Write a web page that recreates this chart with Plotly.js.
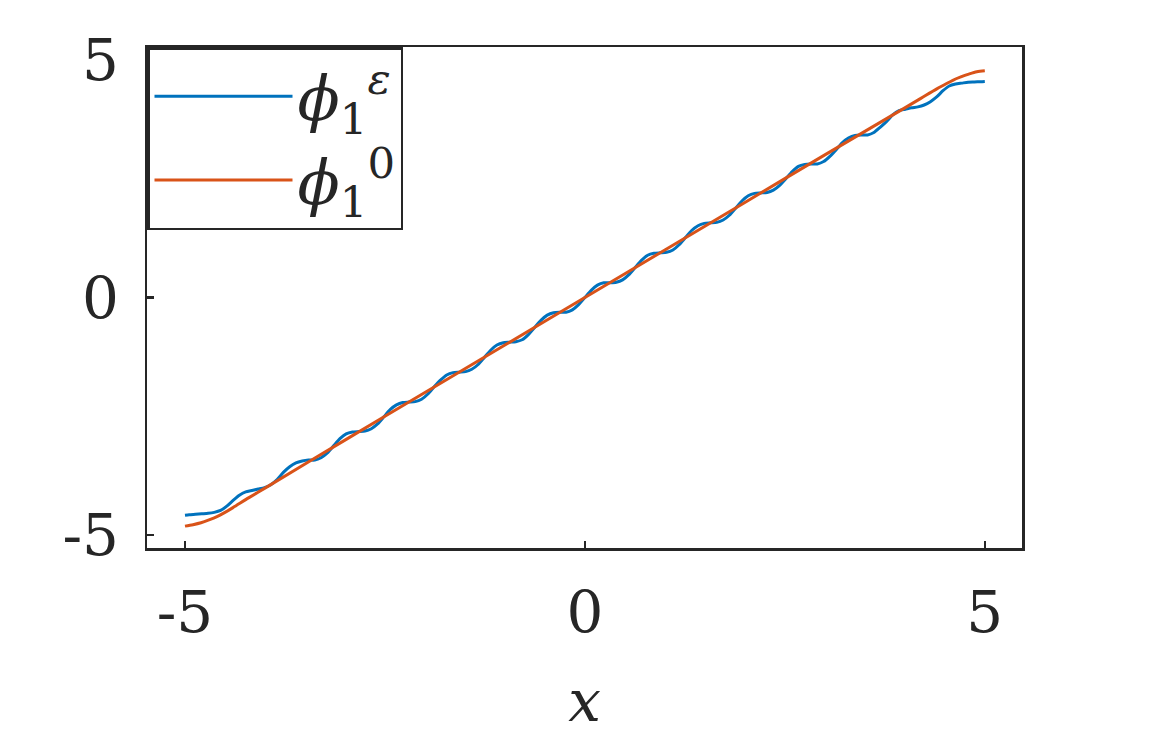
<!DOCTYPE html>
<html>
<head>
<meta charset="utf-8">
<script src="https://cdn.plot.ly/plotly-3.0.1.min.js"></script>
<style>html,body{margin:0;padding:0;background:#fff;}#chart{width:1150px;height:750px;}</style>
</head>
<body>
<div id="chart"></div>
<script>
// x samples shared by phi_1^eps
const xEps = [-5, -4.948, -4.869, -4.791, -4.712, -4.634, -4.555, -4.477, -4.398, -4.320, -4.241, -4.163, -4.084, -4.006, -3.927, -3.848, -3.770, -3.691, -3.613, -3.534, -3.456,
  -3.377, -3.299, -3.220, -3.142, -3.063, -2.985, -2.906, -2.827, -2.749, -2.670, -2.592, -2.513, -2.435, -2.356, -2.278, -2.199, -2.121, -2.042, -1.963, -1.885,
  -1.806, -1.728, -1.649, -1.571, -1.492, -1.414, -1.335, -1.257, -1.178, -1.100, -1.021, -0.942, -0.864, -0.785, -0.707, -0.628, -0.550, -0.471, -0.393, -0.314,
  -0.236, -0.157, -0.079, 0, 0.079, 0.157, 0.236, 0.314, 0.393, 0.471, 0.550, 0.628, 0.707, 0.785, 0.864, 0.942, 1.021, 1.100, 1.178, 1.257, 1.335, 1.414, 1.492,
  1.571, 1.649, 1.728, 1.806, 1.885, 1.963, 2.042, 2.121, 2.199, 2.278, 2.356, 2.435, 2.513, 2.592, 2.670, 2.749, 2.827, 2.906, 2.985, 3.063, 3.142, 3.220, 3.299,
  3.377, 3.456, 3.534, 3.613, 3.691, 3.770, 3.848, 3.927, 4.006, 4.084, 4.163, 4.241, 4.320, 4.398, 4.477, 4.555, 4.634, 4.712, 4.791, 4.869, 4.948, 5];
const phiEps = [-4.58, -4.57, -4.56, -4.55, -4.54, -4.52, -4.48, -4.39, -4.27, -4.16, -4.09, -4.06, -4.03, -4.00, -3.94, -3.83, -3.68, -3.56, -3.48, -3.44, -3.42,
  -3.42, -3.37, -3.27, -3.12, -2.97, -2.87, -2.83, -2.82, -2.81, -2.76, -2.66, -2.51, -2.36, -2.26, -2.21, -2.20, -2.19, -2.14, -2.03, -1.88,
  -1.74, -1.63, -1.58, -1.57, -1.56, -1.51, -1.41, -1.26, -1.11, -1.00, -0.95, -0.94, -0.93, -0.89, -0.78, -0.63, -0.48, -0.37, -0.32, -0.31,
  -0.31, -0.26, -0.15, 0, 0.15, 0.26, 0.31, 0.31, 0.32, 0.37, 0.48, 0.63, 0.78, 0.89, 0.93, 0.94, 0.95, 1.00, 1.11, 1.26, 1.41, 1.51, 1.56,
  1.57, 1.58, 1.63, 1.73, 1.88, 2.03, 2.14, 2.19, 2.20, 2.21, 2.26, 2.36, 2.50, 2.65, 2.76, 2.80, 2.81, 2.81, 2.86, 2.97, 3.11, 3.26, 3.36,
  3.41, 3.42, 3.42, 3.47, 3.58, 3.70, 3.84, 3.93, 3.96, 3.99, 4.01, 4.05, 4.12, 4.22, 4.35, 4.45, 4.49, 4.51, 4.53, 4.535, 4.54, 4.545];
// phi_1^0 (homogenized)
const xZero = [-5, -4.9, -4.8, -4.7, -4.6, -4.5, -4.4, -4.2, -4, -3, -2, -1, 0, 1, 2, 3, 4, 4.2, 4.4, 4.5, 4.6, 4.7, 4.8, 4.9, 5];
const phiZero = [-4.81, -4.78, -4.74, -4.68, -4.61, -4.52, -4.42, -4.21, -4.01, -3.0, -2.0, -1.0, 0, 1.0, 2.0, 3.0, 3.99, 4.19, 4.39, 4.48, 4.57, 4.64, 4.70, 4.75, 4.77];
const tickVals = [-5, 0, 5];
const tickText = ['-5', '0', '5'];
const seriesNames = ['<i>ϕ</i><sub>1</sub><sup><i>ε</i></sup>', '<i>ϕ</i><sub>1</sub><sup>0</sup>'];

const axisColor = '#262626';
const serif = 'DejaVu Serif';

const traces = [
  {x: xEps, y: phiEps, type: 'scatter', mode: 'lines', name: seriesNames[0],
   line: {color: '#0072BD', width: 3, shape: 'spline', smoothing: 0.6}},
  {x: xZero, y: phiZero, type: 'scatter', mode: 'lines', name: seriesNames[1],
   line: {color: '#D95319', width: 3, shape: 'spline', smoothing: 0.8}}
];

const layout = {
  width: 1150, height: 750,
  margin: {l: 147, r: 128, t: 47, b: 202, pad: 0},
  paper_bgcolor: '#ffffff', plot_bgcolor: '#ffffff',
  font: {family: serif, color: axisColor, size: 58},
  showlegend: true,
  legend: {x: 0, y: 1, xanchor: 'left', yanchor: 'top', bgcolor: '#ffffff',
           bordercolor: axisColor, borderwidth: 2.5, itemwidth: 138,
           font: {family: serif, size: 62, color: axisColor}, tracegroupgap: 0},
  xaxis: {range: [-5.475, 5.465], tickmode: 'array', tickvals: tickVals, ticktext: tickText,
          ticks: 'inside', ticklen: 7, tickwidth: 2.5, tickcolor: axisColor,
          showline: true, linecolor: axisColor, linewidth: 2.5, mirror: true,
          showgrid: false, zeroline: false, ticklabelstandoff: 12,
          tickfont: {family: serif, size: 58, color: axisColor},
          title: {text: '<i>x</i>', font: {family: serif, size: 58, color: axisColor}, standoff: 36}},
  yaxis: {range: [-5.27, 5.27], tickmode: 'array', tickvals: tickVals, ticktext: tickText,
          ticks: 'inside', ticklen: 7, tickwidth: 2.5, tickcolor: axisColor,
          showline: true, linecolor: axisColor, linewidth: 2.5, mirror: true,
          showgrid: false, zeroline: false, ticklabelstandoff: 14,
          tickfont: {family: serif, size: 58, color: axisColor}}
};

Plotly.newPlot('chart', traces, layout, {displayModeBar: false, staticPlot: true});
</script>
</body>
</html>
